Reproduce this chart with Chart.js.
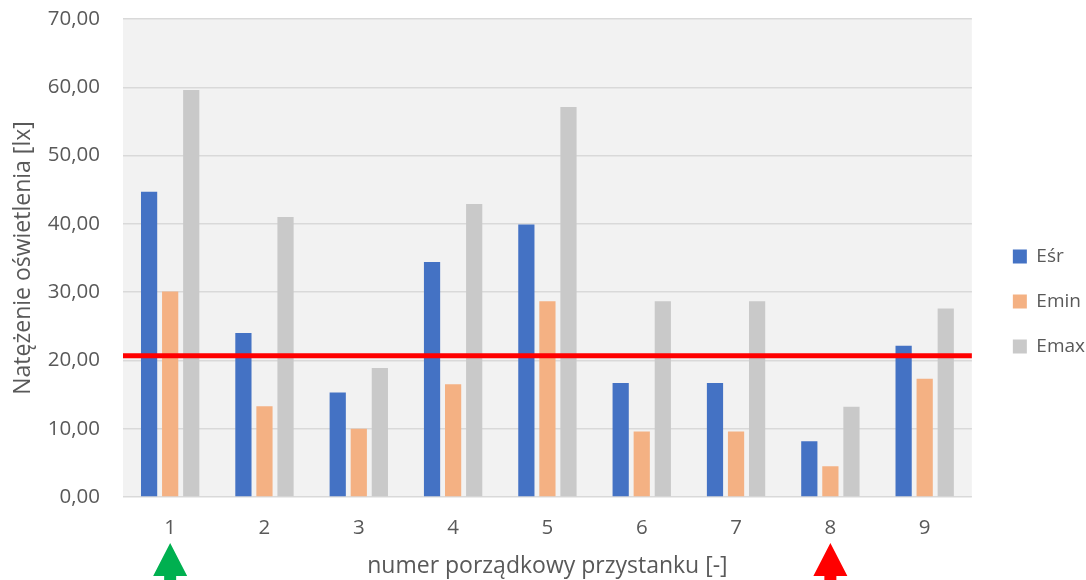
<!DOCTYPE html>
<html>
<head>
<meta charset="utf-8">
<script src="https://cdn.jsdelivr.net/npm/chart.js@4.4.1/dist/chart.umd.min.js"></script>
<style>
  body { margin: 0; background: #fff; }
  #wrap { width: 1086px; height: 580px; position: relative; }
</style>
</head>
<body>
<div id="wrap"><canvas id="chart"></canvas></div>
<script>
// dane
const stops = ["1", "2", "3", "4", "5", "6", "7", "8", "9"];
const eSr  = [44.7, 24.0, 15.3, 34.4, 39.9, 16.7, 16.7, 8.15, 22.15];
const eMin = [30.1, 13.3, 10.0, 16.5, 28.65, 9.6, 9.6, 4.5, 17.3];
const eMax = [59.6, 41.0, 18.9, 42.9, 57.1, 28.65, 28.65, 13.2, 27.6];
const threshold = 20.7;              // czerwona linia
const arrowStops = ["1", "8"];       // strzalki pod osia
const arrowColors = ["#00B050", "#FF0000"];

const yTicks = [0, 10, 20, 30, 40, 50, 60, 70];
const yTitle = "Natężenie oświetlenia [lx]";
const xTitle = "numer porządkowy przystanku [-]";

const txt = "#595959";
const fam = "'Open Sans', sans-serif";

// tlo obszaru wykresu
const plotBg = {
  id: "plotBg",
  beforeDraw(chart) {
    const a = chart.chartArea, ctx = chart.ctx;
    ctx.save();
    ctx.fillStyle = "#F2F2F2";
    ctx.fillRect(a.left, a.top, a.right - a.left, a.bottom - a.top);
    ctx.restore();
  }
};

// przesuniecie legendy (jak w Excelu)
const legendShift = {
  id: "legendShift",
  afterLayout(chart) {
    const l = chart.legend;
    l.left += 15; l.right += 15;
    l.top += 2; l.bottom += 2;
  }
};

// linia progowa + strzalki
const marks = {
  id: "marks",
  afterDatasetsDraw(chart) {
    const ctx = chart.ctx, a = chart.chartArea;
    const y = chart.scales.y.getPixelForValue(threshold);
    ctx.save();
    ctx.strokeStyle = "#FF0000";
    ctx.lineWidth = 5;
    ctx.beginPath();
    ctx.moveTo(a.left, y);
    ctx.lineTo(a.right, y);
    ctx.stroke();

    arrowStops.forEach((s, i) => {
      const x = chart.scales.x.getPixelForValue(stops.indexOf(s));
      const tip = a.bottom + 46;
      ctx.fillStyle = arrowColors[i];
      ctx.beginPath();
      ctx.moveTo(x, tip);
      ctx.lineTo(x + 17, tip + 33);
      ctx.lineTo(x + 6, tip + 33);
      ctx.lineTo(x + 6, tip + 60);
      ctx.lineTo(x - 6, tip + 60);
      ctx.lineTo(x - 6, tip + 33);
      ctx.lineTo(x - 17, tip + 33);
      ctx.closePath();
      ctx.fill();
    });
    ctx.restore();
  }
};

const bar = (label, data, color) => ({
  label: label,
  data: data,
  backgroundColor: color,
  borderWidth: 0,
  categoryPercentage: 0.67,
  barPercentage: 0.77
});

new Chart(document.getElementById("chart"), {
  type: "bar",
  data: {
    labels: stops,
    datasets: [
      bar("Eśr", eSr, "#4472C4"),
      bar("Emin", eMin, "#F4B183"),
      bar("Emax", eMax, "#C9C9C9")
    ]
  },
  options: {
    responsive: true,
    maintainAspectRatio: false,
    animation: false,
    layout: { padding: { top: 19, left: 0, right: 6, bottom: 0 } },
    plugins: {
      tooltip: { enabled: false },
      legend: {
        position: "right",
        labels: {
          boxWidth: 14, boxHeight: 14, padding: 26,
          color: txt, font: { family: fam, size: 19 }
        }
      }
    },
    scales: {
      x: {
        grid: { display: false, drawTicks: false },
        border: { display: false },
        ticks: { padding: 18.5, color: txt, font: { family: fam, size: 20.5 } },
        title: { display: true, text: xTitle, color: txt, font: { family: fam, size: 23 }, padding: { top: 10, bottom: 0 } },
        afterFit(s) { s.height = 83; }
      },
      y: {
        min: yTicks[0],
        max: yTicks[yTicks.length - 1],
        afterBuildTicks(s) { s.ticks = yTicks.map(v => ({ value: v })); },
        grid: { color: "#D9D9D9", lineWidth: 1.5, drawTicks: false },
        border: { display: false },
        ticks: {
          padding: 23, color: txt, font: { family: fam, size: 20.5 },
          callback: v => v.toFixed(2).replace(".", ",")
        },
        title: { display: true, text: yTitle, color: txt, font: { family: fam, size: 23 }, padding: { top: 10, bottom: 8 } },
        afterFit(s) { s.width = 123; s.paddingTop = 0; s.paddingBottom = 0; }
      }
    }
  },
  plugins: [plotBg, legendShift, marks]
});
</script>
</body>
</html>
